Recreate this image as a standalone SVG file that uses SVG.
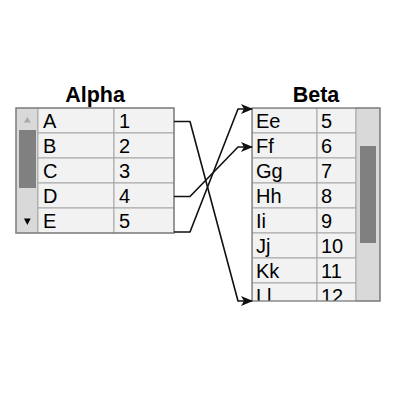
<svg xmlns="http://www.w3.org/2000/svg" width="400" height="400" viewBox="0 0 400 400">
<defs>
<style>
.title{font-family:"Liberation Sans",Arial,sans-serif;font-size:21.5px;font-weight:bold;fill:#000;text-anchor:middle}
.cell{fill:#f2f2f2;stroke:#a6a6a6;stroke-width:1}
.txt{font-family:"Liberation Sans",Arial,sans-serif;font-size:20px;fill:#000}
.track{fill:#d9d9d9;stroke:#a6a6a6;stroke-width:1}
.thumb{fill:#808080}
.frame{fill:none;stroke:#7a7a7a;stroke-width:1.3}
.conn{fill:none;stroke:#111;stroke-width:1.6;stroke-linejoin:round}
</style>
<marker id="arr" viewBox="0 0 12 10" refX="11" refY="5" markerWidth="12" markerHeight="10" markerUnits="userSpaceOnUse" orient="auto">
<path d="M0,0 L12,5 L0,10 L3,5 Z" fill="#111"/>
</marker>
<clipPath id="betaClip"><rect x="252" y="108" width="128" height="193"/></clipPath>
</defs>
<rect width="400" height="400" fill="#fff"/>

<g id="alpha">
<text class="title" x="95" y="102">Alpha</text>
<rect class="track" x="16" y="108" width="22" height="125"/>
<rect class="thumb" x="19" y="130" width="17" height="58"/>
<path d="M24,122.5 L27.3,117 L30.7,122.5 Z" fill="#a8a8a8"/>
<path d="M24,218.5 L27.3,225 L30.7,218.5 Z" fill="#000"/>
<rect class="cell" x="38" y="108" width="76" height="25"/><rect class="cell" x="114" y="108" width="60" height="25"/>
<rect class="cell" x="38" y="133" width="76" height="25"/><rect class="cell" x="114" y="133" width="60" height="25"/>
<rect class="cell" x="38" y="158" width="76" height="25"/><rect class="cell" x="114" y="158" width="60" height="25"/>
<rect class="cell" x="38" y="183" width="76" height="25"/><rect class="cell" x="114" y="183" width="60" height="25"/>
<rect class="cell" x="38" y="208" width="76" height="25"/><rect class="cell" x="114" y="208" width="60" height="25"/>
<text class="txt" x="43" y="128">A</text><text class="txt" x="119" y="128">1</text>
<text class="txt" x="43" y="153">B</text><text class="txt" x="119" y="153">2</text>
<text class="txt" x="43" y="178">C</text><text class="txt" x="119" y="178">3</text>
<text class="txt" x="43" y="203">D</text><text class="txt" x="119" y="203">4</text>
<text class="txt" x="43" y="228">E</text><text class="txt" x="119" y="228">5</text>
<rect class="frame" x="16" y="108" width="158" height="125"/>
</g>

<g id="beta">
<text class="title" x="316" y="102">Beta</text>
<g clip-path="url(#betaClip)">
<rect class="cell" x="252" y="108" width="65" height="25"/><rect class="cell" x="317" y="108" width="39" height="25"/>
<rect class="cell" x="252" y="133" width="65" height="25"/><rect class="cell" x="317" y="133" width="39" height="25"/>
<rect class="cell" x="252" y="158" width="65" height="25"/><rect class="cell" x="317" y="158" width="39" height="25"/>
<rect class="cell" x="252" y="183" width="65" height="25"/><rect class="cell" x="317" y="183" width="39" height="25"/>
<rect class="cell" x="252" y="208" width="65" height="25"/><rect class="cell" x="317" y="208" width="39" height="25"/>
<rect class="cell" x="252" y="233" width="65" height="25"/><rect class="cell" x="317" y="233" width="39" height="25"/>
<rect class="cell" x="252" y="258" width="65" height="25"/><rect class="cell" x="317" y="258" width="39" height="25"/>
<rect class="cell" x="252" y="283" width="65" height="25"/><rect class="cell" x="317" y="283" width="39" height="25"/>
<text class="txt" x="256" y="128">Ee</text><text class="txt" x="321" y="128">5</text>
<text class="txt" x="256" y="153">Ff</text><text class="txt" x="321" y="153">6</text>
<text class="txt" x="256" y="178">Gg</text><text class="txt" x="321" y="178">7</text>
<text class="txt" x="256" y="203">Hh</text><text class="txt" x="321" y="203">8</text>
<text class="txt" x="256" y="228">Ii</text><text class="txt" x="321" y="228">9</text>
<text class="txt" x="256" y="253">Jj</text><text class="txt" x="321" y="253">10</text>
<text class="txt" x="256" y="278">Kk</text><text class="txt" x="321" y="278">11</text>
<text class="txt" x="256" y="303">Ll</text><text class="txt" x="321" y="303">12</text>
</g>
<rect class="track" x="356" y="108" width="24" height="193"/>
<rect class="thumb" x="360" y="146" width="16" height="97"/>
<rect class="frame" x="252" y="108" width="128" height="193"/>
</g>

<g id="connectors">
<path class="conn" marker-end="url(#arr)" d="M174,121.5 L190,121.5 L238,301 L252,301"/>
<path class="conn" marker-end="url(#arr)" d="M174,196.5 L190,196.5 L238,147 L252,147"/>
<path class="conn" marker-end="url(#arr)" d="M174,232 L190,232 L238,109 L252,109"/>
</g>
</svg>
